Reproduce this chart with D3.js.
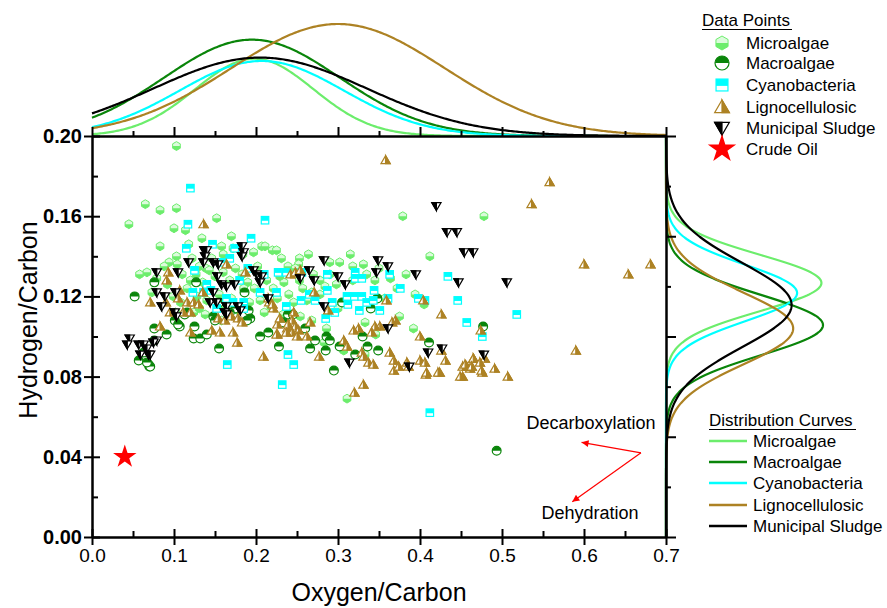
<!DOCTYPE html>
<html>
<head>
<meta charset="utf-8">
<script src="https://cdn.jsdelivr.net/npm/d3@7"></script>
<style>
  html, body { margin: 0; padding: 0; background: #fff; }
  svg { display: block; font-family: "Liberation Sans", Arial, sans-serif; }
</style>
</head>
<body>
<svg id="chart" width="887" height="608"></svg>
<script>
// ---- series metadata ----
const seriesNames = ["Microalgae", "Macroalgae", "Cyanobacteria", "Lignocellulosic", "Municipal Sludge"];
const seriesColors = ["#6ced6c", "#0a850a", "#00ffff", "#ad8224", "#000000"];
const seriesShapes = ["hexagon", "circle", "square", "triangleUp", "triangleDown"];

// ---- O/C, H/C points for each feedstock ----
const microalgae = [
  [0.103,0.195],[0.065,0.166],[0.083,0.163],[0.103,0.164],[0.152,0.159],[0.045,0.156],[0.100,0.154],[0.114,0.153],
  [0.083,0.145],[0.158,0.145],[0.207,0.145],[0.220,0.143],[0.379,0.160],[0.478,0.160],[0.311,0.069],[0.103,0.140],
  [0.094,0.137],[0.104,0.136],[0.172,0.144],[0.184,0.141],[0.197,0.142],[0.211,0.145],[0.225,0.143],[0.131,0.135],
  [0.139,0.134],[0.058,0.131],[0.067,0.132],[0.079,0.129],[0.412,0.140],[0.253,0.139],[0.252,0.136],[0.239,0.135],
  [0.248,0.134],[0.302,0.137],[0.318,0.135],[0.331,0.136],[0.350,0.134],[0.335,0.131],[0.234,0.127],[0.253,0.128],
  [0.268,0.122],[0.298,0.126],[0.394,0.121],[0.392,0.104],[0.124,0.112],[0.138,0.111],[0.150,0.109],[0.158,0.108],
  [0.102,0.112],[0.233,0.111],[0.254,0.110],[0.333,0.107],[0.307,0.093],[0.333,0.091],[0.110,0.131],[0.120,0.128],
  [0.127,0.131],[0.135,0.127],[0.143,0.133],[0.150,0.130],[0.160,0.132],[0.168,0.128],[0.175,0.134],[0.183,0.131],
  [0.190,0.127],[0.198,0.124],[0.213,0.128],[0.221,0.124],[0.229,0.130],[0.240,0.121],[0.257,0.124],[0.262,0.118],
  [0.116,0.124],[0.128,0.120],[0.140,0.118],[0.155,0.121],[0.170,0.119],[0.185,0.124],[0.205,0.118],[0.218,0.115],
  [0.246,0.117],[0.278,0.121],[0.284,0.125],[0.290,0.131],[0.092,0.126],[0.099,0.120],[0.108,0.117],[0.131,0.114],
  [0.162,0.115],[0.178,0.113],[0.192,0.117],[0.210,0.112],[0.226,0.119],[0.270,0.131],[0.278,0.128],[0.318,0.128],
  [0.364,0.129],[0.372,0.124],[0.357,0.119],[0.300,0.114],[0.268,0.108],[0.286,0.104],[0.375,0.110],[0.405,0.116],
  [0.346,0.101],[0.283,0.097],[0.122,0.139],[0.146,0.139],[0.160,0.141],[0.118,0.146],[0.170,0.150],[0.134,0.149],
  [0.088,0.135],[0.073,0.122],[0.202,0.135],[0.231,0.139],[0.264,0.141],[0.290,0.137],[0.315,0.141],[0.345,0.128],
  [0.383,0.131]
];
const macroalgae = [
  [0.052,0.120],[0.076,0.127],[0.127,0.127],[0.186,0.122],[0.070,0.085],[0.295,0.083],[0.4935,0.043],[0.477,0.105],
  [0.411,0.097],[0.348,0.119],[0.305,0.117],[0.340,0.114],[0.239,0.111],[0.235,0.107],[0.191,0.113],[0.193,0.109],
  [0.189,0.108],[0.116,0.112],[0.113,0.111],[0.101,0.108],[0.107,0.105],[0.148,0.110],[0.150,0.108],[0.076,0.104],
  [0.091,0.101],[0.105,0.106],[0.124,0.099],[0.132,0.099],[0.233,0.107],[0.228,0.095],[0.057,0.088],[0.069,0.086],
  [0.071,0.085],[0.067,0.087],[0.272,0.098],[0.266,0.094],[0.286,0.100],[0.290,0.098],[0.285,0.093],[0.302,0.095],
  [0.321,0.091],[0.330,0.100],[0.336,0.095],[0.349,0.093],[0.155,0.094],[0.205,0.100],[0.175,0.114],[0.215,0.102],
  [0.260,0.104],[0.245,0.111],[0.155,0.117],[0.168,0.112],[0.125,0.105],[0.140,0.101],[0.063,0.092],[0.076,0.098]
];
const cyanobacteria = [
  [0.120,0.174],[0.117,0.156],[0.211,0.158],[0.194,0.149],[0.115,0.144],[0.147,0.146],[0.174,0.144],[0.518,0.111],
  [0.476,0.100],[0.165,0.086],[0.246,0.086],[0.232,0.076],[0.412,0.062],[0.434,0.130],[0.376,0.124],[0.446,0.118],
  [0.457,0.107],[0.285,0.109],[0.287,0.131],[0.321,0.132],[0.321,0.129],[0.329,0.129],[0.363,0.131],[0.256,0.132],
  [0.344,0.123],[0.287,0.123],[0.398,0.119],[0.406,0.118],[0.326,0.113],[0.351,0.113],[0.239,0.091],[0.311,0.120],
  [0.320,0.120],[0.329,0.120],[0.335,0.117],[0.343,0.118],[0.361,0.119],[0.312,0.116],[0.160,0.137],[0.227,0.132],
  [0.237,0.132],[0.140,0.126],[0.145,0.123],[0.205,0.122],[0.225,0.122],[0.123,0.122],[0.136,0.122],[0.237,0.115],
  [0.152,0.114],[0.164,0.119],[0.172,0.117],[0.185,0.117],[0.185,0.114],[0.180,0.128],[0.190,0.134],[0.265,0.121],
  [0.272,0.118],[0.293,0.117],[0.296,0.112],[0.168,0.139],[0.125,0.133],[0.210,0.131],[0.255,0.118]
];
const lignocellulosic = [
  [0.136,0.156],[0.358,0.188],[0.558,0.177],[0.536,0.166],[0.600,0.136],[0.681,0.136],[0.654,0.131],[0.474,0.103],
  [0.590,0.093],[0.465,0.089],[0.479,0.089],[0.461,0.084],[0.476,0.082],[0.491,0.084],[0.507,0.080],[0.331,0.076],
  [0.320,0.072],[0.368,0.083],[0.407,0.081],[0.424,0.082],[0.452,0.080],[0.457,0.085],[0.452,0.085],[0.475,0.083],
  [0.164,0.136],[0.093,0.132],[0.091,0.128],[0.187,0.132],[0.071,0.117],[0.090,0.117],[0.135,0.122],[0.083,0.105],
  [0.209,0.090],[0.226,0.106],[0.238,0.104],[0.226,0.101],[0.238,0.102],[0.216,0.117],[0.221,0.114],[0.271,0.122],
  [0.404,0.118],[0.359,0.118],[0.288,0.113],[0.426,0.111],[0.400,0.100],[0.426,0.093],[0.242,0.131],[0.248,0.132],
  [0.370,0.108],[0.366,0.107],[0.351,0.105],[0.345,0.105],[0.325,0.104],[0.319,0.103],[0.341,0.102],[0.262,0.100],
  [0.277,0.090],[0.307,0.098],[0.311,0.095],[0.329,0.092],[0.331,0.090],[0.337,0.087],[0.343,0.086],[0.363,0.092],
  [0.368,0.088],[0.374,0.085],[0.384,0.087],[0.386,0.085],[0.400,0.088],[0.406,0.087],[0.408,0.082],[0.422,0.082],
  [0.431,0.088],[0.449,0.080],[0.455,0.086],[0.465,0.089],[0.463,0.085],[0.473,0.087],[0.229,0.109],[0.246,0.112],
  [0.244,0.108],[0.239,0.106],[0.248,0.105],[0.252,0.103],[0.244,0.102],[0.266,0.107],[0.250,0.100],[0.105,0.119],
  [0.116,0.117],[0.124,0.117],[0.130,0.116],[0.120,0.112],[0.095,0.112],[0.111,0.112],[0.154,0.109],[0.162,0.108],
  [0.170,0.110],[0.178,0.109],[0.183,0.107],[0.120,0.102],[0.146,0.103],[0.156,0.102],[0.172,0.102],[0.177,0.097],
  [0.215,0.119],[0.220,0.116],[0.225,0.101],[0.237,0.102],[0.107,0.123],[0.254,0.133]
];
const municipalSludge = [
  [0.137,0.143],[0.183,0.145],[0.420,0.165],[0.433,0.152],[0.445,0.152],[0.465,0.142],[0.454,0.142],[0.506,0.127],
  [0.478,0.091],[0.185,0.142],[0.183,0.140],[0.140,0.143],[0.138,0.140],[0.136,0.137],[0.118,0.137],[0.148,0.137],
  [0.154,0.136],[0.079,0.132],[0.105,0.132],[0.197,0.133],[0.201,0.131],[0.207,0.130],[0.205,0.127],[0.153,0.130],
  [0.158,0.126],[0.164,0.125],[0.174,0.126],[0.079,0.122],[0.089,0.120],[0.102,0.122],[0.148,0.122],[0.085,0.115],
  [0.215,0.119],[0.144,0.117],[0.152,0.117],[0.164,0.115],[0.178,0.115],[0.181,0.113],[0.162,0.112],[0.164,0.111],
  [0.101,0.112],[0.103,0.110],[0.046,0.099],[0.043,0.096],[0.057,0.096],[0.063,0.096],[0.067,0.094],[0.069,0.091],
  [0.059,0.091],[0.071,0.091],[0.079,0.098],[0.075,0.097],[0.283,0.138],[0.349,0.138],[0.361,0.135],[0.265,0.133],
  [0.254,0.129],[0.271,0.128],[0.300,0.130],[0.309,0.126],[0.347,0.132],[0.395,0.131],[0.447,0.127],[0.283,0.115],
  [0.361,0.104],[0.427,0.094],[0.410,0.092],[0.314,0.087],[0.387,0.085]
];
const crudeOil = [[0.04, 0.04]];

const seriesData = [microalgae, macroalgae, cyanobacteria, lignocellulosic, municipalSludge];

// ---- fitted normal distributions (O/C on top, H/C on the right) ----
const ocMean = [0.198, 0.195, 0.207, 0.300, 0.205];
const ocSD   = [0.072, 0.107, 0.100, 0.130, 0.130];
const ocPeak = [0.69, 0.86, 0.67, 1.00, 0.70];
const hcMean = [0.1267, 0.1057, 0.1217, 0.1040, 0.1157];
const hcSD   = [0.0140, 0.0150, 0.0140, 0.0180, 0.0210];
const hcPeak = [0.99, 1.00, 0.835, 0.81, 0.80];

// ---- axes ----
const xTicks = [0, 0.1, 0.2, 0.3, 0.4, 0.5, 0.6, 0.7];
const xMinor = [0.05, 0.15, 0.25, 0.35, 0.45, 0.55, 0.65];
const yTicks = [0, 0.04, 0.08, 0.12, 0.16, 0.20];
const yMinor = [0.02, 0.06, 0.10, 0.14, 0.18];
const rightMajor = [0, 0.05, 0.10, 0.15, 0.20];
const rightMinor = [0.025, 0.075, 0.125, 0.175];

// ---- annotation ----
const arrowFrom = [0.6695, 0.0420];
const arrowTo = [[0.597, 0.0472], [0.5857, 0.0176]];
const annotations = [
  { text: "Decarboxylation", at: [0.6085, 0.0539] },
  { text: "Dehydration", at: [0.6073, 0.0090] }
];

const svg = d3.select("#chart");
const x = d3.scaleLinear().domain([0, 0.7]).range([92, 666]);
const y = d3.scaleLinear().domain([0, 0.2]).range([537, 136]);
const topH = d3.scaleLinear().domain([0, 1]).range([136, 24]);
const rightW = d3.scaleLinear().domain([0, 1]).range([666, 823]);

// marker drawing: outline shape with a half-filled section
function drawMarker(g, shape, color, r) {
  if (shape === "hexagon") {
    const w = r * Math.cos(Math.PI / 6);
    const pts = [[0,-r],[w,-r/2],[w,r/2],[0,r],[-w,r/2],[-w,-r/2]];
    g.append("path").attr("d", "M" + pts.join("L") + "Z").attr("fill", "#dcfbdc").attr("stroke", color).attr("stroke-width", 1);
    g.append("path").attr("d", `M${-w},0L${w},0L${w},${r/2}L0,${r}L${-w},${r/2}Z`).attr("fill", color);
  } else if (shape === "circle") {
    g.append("circle").attr("r", r).attr("fill", "#fff").attr("stroke", color).attr("stroke-width", 1.2);
    g.append("path").attr("d", `M${-r},0A${r},${r} 0 0 1 ${r},0Z`).attr("fill", color);
  } else if (shape === "square") {
    const s = r * 0.85;
    g.append("rect").attr("x", -s).attr("y", -s).attr("width", 2*s).attr("height", 2*s)
      .attr("fill", "#fff").attr("stroke", color).attr("stroke-width", 1.2);
    g.append("rect").attr("x", -s).attr("y", -s).attr("width", 2*s).attr("height", 1.15*s).attr("fill", color);
  } else if (shape === "triangleUp") {
    const h = r, w = r * 1.05, b = r * 0.8;
    g.append("path").attr("d", `M0,${-h}L${w},${b}L${-w},${b}Z`).attr("fill", "#fff").attr("stroke", color).attr("stroke-width", 1.2);
    g.append("path").attr("d", `M0,${-h}L${w},${b}L0,${b}Z`).attr("fill", color).attr("stroke", color).attr("stroke-width", 1.2);
  } else if (shape === "triangleDown") {
    const h = r, w = r * 1.05, b = r * 0.8;
    g.append("path").attr("d", `M${-w},${-b}L${w},${-b}L0,${h}Z`).attr("fill", "#fff").attr("stroke", color).attr("stroke-width", 1.2);
    g.append("path").attr("d", `M${-w},${-b}L0,${-b}L0,${h}Z`).attr("fill", color).attr("stroke", color).attr("stroke-width", 1.2);
  }
}

// ---- scatter ----
const plot = svg.append("g");
seriesData.forEach((pts, i) => {
  const grp = plot.append("g");
  pts.forEach(p => {
    const g = grp.append("g").attr("transform", `translate(${x(p[0])},${y(p[1])})`);
    drawMarker(g, seriesShapes[i], seriesColors[i], 4.4);
  });
});
plot.selectAll(".crude").data(crudeOil).join("path")
  .attr("transform", d => `translate(${x(d[0])},${y(d[1])})`)
  .attr("d", d3.symbol().type(d3.symbolStar).size(170))
  .attr("fill", "#ff0000");

// ---- marginal distribution curves ----
const gauss = (v, m, s, p) => p * Math.exp(-((v - m) ** 2) / (2 * s * s));
const ocGrid = d3.range(0, 0.7001, 0.002);
const hcGrid = d3.range(0, 0.2001, 0.0005);
const topLine = d3.line().x(d => x(d[0])).y(d => topH(d[1]));
const rightLine = d3.line().x(d => rightW(d[1])).y(d => y(d[0]));
seriesNames.forEach((_, i) => {
  svg.append("path")
    .attr("d", topLine(ocGrid.map(v => [v, gauss(v, ocMean[i], ocSD[i], ocPeak[i])])))
    .attr("fill", "none").attr("stroke", seriesColors[i]).attr("stroke-width", 2.2);
  svg.append("path")
    .attr("d", rightLine(hcGrid.map(v => [v, gauss(v, hcMean[i], hcSD[i], hcPeak[i])])))
    .attr("fill", "none").attr("stroke", seriesColors[i]).attr("stroke-width", 2.2);
});

// ---- frame and ticks ----
const axisStyle = sel => {
  sel.select(".domain").attr("stroke", "#000").attr("stroke-width", 2.5);
  sel.selectAll(".tick line").attr("stroke", "#000").attr("stroke-width", 2);
};
// left
svg.append("g").attr("transform", "translate(92,0)")
  .call(d3.axisLeft(y).tickValues(yTicks).tickSize(8).tickSizeOuter(0).tickFormat(d3.format(".2f")).tickPadding(2))
  .call(axisStyle)
  .call(s => s.selectAll("text").attr("font-size", 20).attr("font-weight", "bold").attr("fill", "#000")
    .attr("font-family", "Liberation Sans, Arial, sans-serif"));
svg.append("g").attr("transform", "translate(92,0)")
  .call(d3.axisLeft(y).tickValues(yTicks).tickSize(-8).tickFormat("")).call(axisStyle)
  .call(s => s.select(".domain").remove());
svg.append("g").attr("transform", "translate(92,0)")
  .call(d3.axisLeft(y).tickValues(yMinor).tickSize(-6).tickFormat("")).call(axisStyle)
  .call(s => s.select(".domain").remove());
// bottom
svg.append("g").attr("transform", "translate(0,537)")
  .call(d3.axisBottom(x).tickValues(xTicks).tickSize(8).tickSizeOuter(0).tickFormat(d3.format(".1f")).tickPadding(4))
  .call(axisStyle)
  .call(s => s.selectAll("text").attr("font-size", 19).attr("fill", "#000")
    .attr("font-family", "Liberation Sans, Arial, sans-serif"));
svg.append("g").attr("transform", "translate(0,537)")
  .call(d3.axisBottom(x).tickValues(xTicks).tickSize(-8).tickFormat("")).call(axisStyle)
  .call(s => s.select(".domain").remove());
svg.append("g").attr("transform", "translate(0,537)")
  .call(d3.axisBottom(x).tickValues(xMinor).tickSize(-6).tickFormat("")).call(axisStyle)
  .call(s => s.select(".domain").remove());
// top (base of the O/C distribution panel)
svg.append("g").attr("transform", "translate(0,136)")
  .call(d3.axisTop(x).tickValues(xTicks).tickSize(9).tickSizeOuter(0).tickFormat("")).call(axisStyle);
svg.append("g").attr("transform", "translate(0,136)")
  .call(d3.axisTop(x).tickValues(xMinor).tickSize(5).tickFormat("")).call(axisStyle)
  .call(s => s.select(".domain").remove());
// right (base of the H/C distribution panel)
svg.append("g").attr("transform", "translate(666,0)")
  .call(d3.axisRight(y).tickValues(rightMajor).tickSize(10).tickSizeOuter(0).tickFormat("")).call(axisStyle);
svg.append("g").attr("transform", "translate(666,0)")
  .call(d3.axisRight(y).tickValues(rightMinor).tickSize(5).tickFormat("")).call(axisStyle)
  .call(s => s.select(".domain").remove());

// ---- axis titles ----
svg.append("text").attr("x", 379).attr("y", 601).attr("text-anchor", "middle")
  .attr("font-size", 25).text("Oxygen/Carbon");
svg.append("text").attr("transform", "translate(37,320) rotate(-90)").attr("text-anchor", "middle")
  .attr("font-size", 25).text("Hydrogen/Carbon");

// ---- annotation arrows ----
const defs = svg.append("defs");
defs.append("marker").attr("id", "arrowHead").attr("viewBox", "0 0 10 10")
  .attr("refX", 10).attr("refY", 5).attr("markerWidth", 11).attr("markerHeight", 7)
  .attr("markerUnits", "userSpaceOnUse").attr("orient", "auto")
  .append("path").attr("d", "M0,0L10,5L0,10Z").attr("fill", "#ff0000");
arrowTo.forEach(t => {
  svg.append("line")
    .attr("x1", x(arrowFrom[0])).attr("y1", y(arrowFrom[1]))
    .attr("x2", x(t[0])).attr("y2", y(t[1]))
    .attr("stroke", "#ff0000").attr("stroke-width", 1.2)
    .attr("marker-end", "url(#arrowHead)");
});
annotations.forEach(a => {
  svg.append("text").attr("x", x(a.at[0])).attr("y", y(a.at[1])).attr("text-anchor", "middle")
    .attr("font-size", 18).text(a.text);
});

// ---- legends ----
const legPts = svg.append("g");
legPts.append("text").attr("x", 702).attr("y", 26).attr("font-size", 17).text("Data Points");
legPts.append("line").attr("x1", 702).attr("x2", 792).attr("y1", 29.5).attr("y2", 29.5)
  .attr("stroke", "#000").attr("stroke-width", 1.2);
const legRowsY = [43, 63, 85, 107, 128, 149];
seriesNames.forEach((name, i) => {
  const g = legPts.append("g").attr("transform", `translate(722,${legRowsY[i]})`);
  drawMarker(g, seriesShapes[i], seriesColors[i], 7);
  legPts.append("text").attr("x", 746).attr("y", legRowsY[i] + 6).attr("font-size", 17).text(name);
});
legPts.append("path").attr("transform", `translate(722,${legRowsY[5]})`)
  .attr("d", d3.symbol().type(d3.symbolStar).size(250)).attr("fill", "#ff0000");
legPts.append("text").attr("x", 746).attr("y", legRowsY[5] + 6).attr("font-size", 17).text("Crude Oil");

const legCurves = svg.append("g");
legCurves.append("text").attr("x", 709).attr("y", 426).attr("font-size", 17).text("Distribution Curves");
legCurves.append("line").attr("x1", 709).attr("x2", 856).attr("y1", 429.5).attr("y2", 429.5)
  .attr("stroke", "#000").attr("stroke-width", 1.2);
const curveRowsY = [441, 462, 483, 505, 526];
seriesNames.forEach((name, i) => {
  legCurves.append("line").attr("x1", 709).attr("x2", 747).attr("y1", curveRowsY[i]).attr("y2", curveRowsY[i])
    .attr("stroke", seriesColors[i]).attr("stroke-width", 2.5);
  legCurves.append("text").attr("x", 753).attr("y", curveRowsY[i] + 6).attr("font-size", 17).text(name);
});
</script>
</body>
</html>
